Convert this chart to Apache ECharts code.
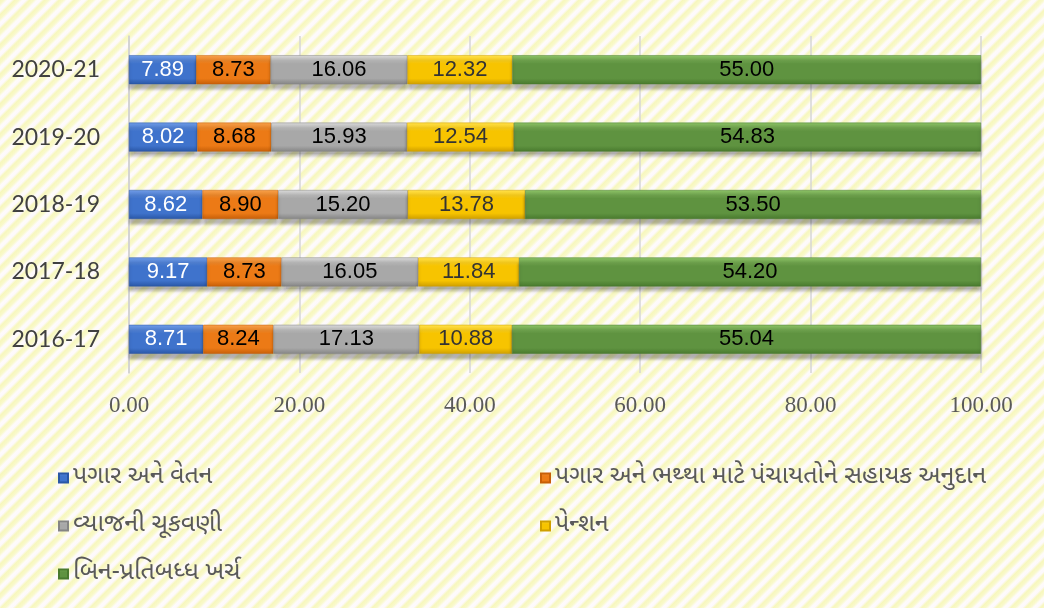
<!DOCTYPE html>
<html>
<head>
<meta charset="utf-8">
<script src="https://cdn.jsdelivr.net/npm/echarts@6/dist/echarts.min.js"></script>
<style>
html,body{margin:0;padding:0;}
body{width:1044px;height:608px;overflow:hidden;
background:repeating-linear-gradient(135deg,#f7f7bd 0px,#f9f9cc 3px,#fefbfb 5.5px,#fdf9fc 8px,#f7f7bd 10.5px);}
#chart{width:1044px;height:608px;}
</style>
</head>
<body>
<div id="chart"></div>
<script>
const categories = ['2016-17','2017-18','2018-19','2019-20','2020-21'];
const seriesNames = ['પગાર અને વેતન','પગાર અને ભથ્થા માટે પંચાયતોને સહાયક અનુદાન','વ્યાજની ચૂકવણી','પેન્શન','બિન-પ્રતિબધ્ધ ખર્ચ'];
const salary   = [8.71, 9.17, 8.62, 8.02, 7.89];
const grants   = [8.24, 8.73, 8.90, 8.68, 8.73];
const interest = [17.13, 16.05, 15.20, 15.93, 16.06];
const pension  = [10.88, 11.84, 13.78, 12.54, 12.32];
const noncommitted = [55.04, 54.20, 53.50, 54.83, 55.00];
const xTicks = [0, 20, 40, 60, 80, 100];

const values = [salary, grants, interest, pension, noncommitted];
const palettes = [
  ['#6f9be6','#3f73cc','#2a57a6'],
  ['#f5a04a','#ec7a16','#c75f08'],
  ['#d8d8d8','#a8a8a8','#858585'],
  ['#ffe04a','#f7c400','#cf9f00'],
  ['#8cc266','#5f9340','#497a2e']
];
const labelColors = ['#ffffff','#000000','#000000','#333333','#000000'];

const chart = echarts.init(document.getElementById('chart'), null, {renderer:'canvas'});
const series = values.map((arr, i) => ({
  name: seriesNames[i],
  type: 'bar',
  stack: 'total',
  barWidth: '43%',
  data: arr,
  itemStyle: {
    color: new echarts.graphic.LinearGradient(0,0,0,1,[
      {offset:0, color: palettes[i][0]},
      {offset:0.3, color: palettes[i][1]},
      {offset:0.8, color: palettes[i][1]},
      {offset:1, color: palettes[i][2]}
    ]),
    borderColor: palettes[i][2],
    borderWidth: 0.5,
    shadowColor: 'rgba(0,0,0,0.3)',
    shadowOffsetY: 5,
    shadowBlur: 3
  },
  label: {
    show: true,
    position: 'inside',
    formatter: p => p.value.toFixed(2),
    fontFamily: 'Liberation Sans, Arial, sans-serif',
    fontSize: 22,
    color: labelColors[i]
  }
}));

const legendText = {fontSize: 25, color: '#595959', lineHeight: 26, fontFamily: 'Noto Sans Gujarati, Noto Sans, sans-serif'};

chart.setOption({
  backgroundColor: 'transparent',
  animation: false,
  grid: {left: 129, right: 63, top: 36, bottom: 235, containLabel: false},
  xAxis: {
    type: 'value', min: 0, max: 100, interval: 20,
    axisLine: {show: false}, axisTick: {show: false},
    splitLine: {show: true, lineStyle: {color: '#d6d6d6', width: 1.5}},
    axisLabel: {
      formatter: v => v.toFixed(2),
      fontFamily: 'Liberation Serif, Times New Roman, serif',
      fontSize: 23, color: '#595959', margin: 21
    }
  },
  yAxis: {
    type: 'category', data: categories,
    axisLine: {show: true, lineStyle: {color: '#d0d0d0', width: 1.5}},
    axisTick: {show: false},
    axisLabel: {fontFamily: 'Lato, DejaVu Sans, sans-serif', fontSize: 23, color: '#404040', margin: 29}
  },
  legend: [
    {
      orient: 'vertical', left: 53, top: 460, itemGap: 22,
      itemWidth: 9, itemHeight: 9, icon: 'rect',
      data: [seriesNames[0], seriesNames[2], seriesNames[4]],
      textStyle: legendText
    },
    {
      orient: 'vertical', left: 535, top: 460, itemGap: 22,
      itemWidth: 9, itemHeight: 9, icon: 'rect',
      data: [seriesNames[1], seriesNames[3]],
      textStyle: legendText
    }
  ],
  series: series
});
</script>
</body>
</html>
